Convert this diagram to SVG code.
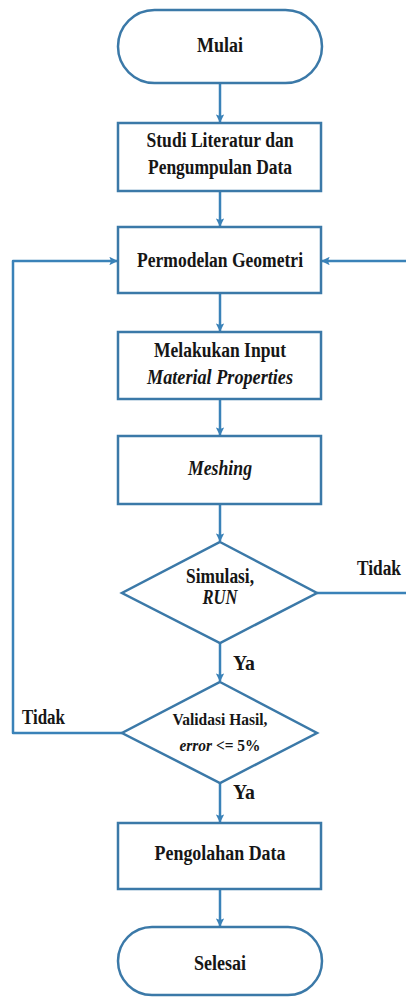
<svg xmlns="http://www.w3.org/2000/svg" width="406" height="1000" viewBox="0 0 406 1000">
<defs>
<style>
.sh{fill:#ffffff;stroke:#3b79a8;stroke-width:2.5}
.ln{fill:none;stroke:#3a82b8;stroke-width:2.5;stroke-linejoin:round}
text{font-family:'Liberation Serif','DejaVu Serif',serif;font-weight:bold;font-size:20px;fill:#161616}
.t{text-anchor:middle}
.i{font-style:italic}
.sm{font-size:17px}
</style>
<marker id="ah" viewBox="0 0 10 10" refX="9" refY="5" markerWidth="3.4" markerHeight="3.4" orient="auto" markerUnits="strokeWidth">
<path d="M0,0 L10,5 L0,10 L2,5 z" fill="#3a82b8"/>
</marker>
</defs>
<rect width="406" height="1000" fill="#ffffff"/>
<g id="connectors">
<line class="ln" x1="220" y1="83" x2="220" y2="122" marker-end="url(#ah)"/>
<line class="ln" x1="220" y1="191" x2="220" y2="226" marker-end="url(#ah)"/>
<line class="ln" x1="220" y1="293" x2="220" y2="331" marker-end="url(#ah)"/>
<line class="ln" x1="220" y1="399" x2="220" y2="435" marker-end="url(#ah)"/>
<line class="ln" x1="220" y1="504" x2="220" y2="541" marker-end="url(#ah)"/>
<line class="ln" x1="220" y1="643" x2="220" y2="681" marker-end="url(#ah)"/>
<line class="ln" x1="220" y1="783" x2="220" y2="822" marker-end="url(#ah)"/>
<line class="ln" x1="220" y1="889" x2="220" y2="926" marker-end="url(#ah)"/>
<path class="ln" d="M122,733 H13 V261 H117" marker-end="url(#ah)"/>
<path class="ln" d="M317,593 H412 V261 H322" marker-end="url(#ah)"/>
<text x="233" y="670" textLength="22" lengthAdjust="spacingAndGlyphs">Ya</text>
<text x="233" y="799" textLength="22" lengthAdjust="spacingAndGlyphs">Ya</text>
<text x="357" y="575" textLength="44" lengthAdjust="spacingAndGlyphs">Tidak</text>
<text x="22" y="724" textLength="43" lengthAdjust="spacingAndGlyphs">Tidak</text>
</g>
<g id="mulai">
<rect class="sh" x="118" y="10" width="204" height="73" rx="36.5"/>
<text class="t" x="220" y="52" textLength="46" lengthAdjust="spacingAndGlyphs">Mulai</text>
</g>
<g id="studi">
<rect class="sh" x="118" y="123" width="203" height="68"/>
<text class="t" x="220" y="146.5" textLength="147" lengthAdjust="spacingAndGlyphs">Studi Literatur dan</text>
<text class="t" x="220" y="173.5" textLength="144" lengthAdjust="spacingAndGlyphs">Pengumpulan Data</text>
</g>
<g id="permodelan">
<rect class="sh" x="118" y="227" width="203" height="66"/>
<text class="t" x="220" y="266.5" textLength="166" lengthAdjust="spacingAndGlyphs">Permodelan Geometri</text>
</g>
<g id="input">
<rect class="sh" x="118" y="332" width="203" height="67"/>
<text class="t" x="220" y="356.5" textLength="132" lengthAdjust="spacingAndGlyphs">Melakukan Input</text>
<text class="t i" x="220" y="383.5" textLength="146" lengthAdjust="spacingAndGlyphs">Material Properties</text>
</g>
<g id="meshing">
<rect class="sh" x="118" y="436" width="203" height="68"/>
<text class="t i" x="220" y="474.5" textLength="64" lengthAdjust="spacingAndGlyphs">Meshing</text>
</g>
<g id="simulasi">
<polygon class="sh" points="220,542 317,593 220,643 122,593"/>
<text class="t" x="220" y="583" textLength="68" lengthAdjust="spacingAndGlyphs">Simulasi,</text>
<text class="t i" x="220" y="603.5" textLength="35" lengthAdjust="spacingAndGlyphs">RUN</text>
</g>
<g id="validasi">
<polygon class="sh" points="220,682 317,733 220,783 122,733"/>
<text class="t sm" x="220" y="725" textLength="95" lengthAdjust="spacingAndGlyphs">Validasi Hasil,</text>
<text class="t sm" x="220" y="751" textLength="81" lengthAdjust="spacingAndGlyphs"><tspan font-style="italic">error</tspan> &lt;= 5%</text>
</g>
<g id="pengolahan">
<rect class="sh" x="118" y="823" width="203" height="66"/>
<text class="t" x="220" y="859.5" textLength="131" lengthAdjust="spacingAndGlyphs">Pengolahan Data</text>
</g>
<g id="selesai">
<rect class="sh" x="118" y="927" width="204" height="68" rx="34"/>
<text class="t" x="220" y="969.5" textLength="52" lengthAdjust="spacingAndGlyphs">Selesai</text>
</g>
</svg>
